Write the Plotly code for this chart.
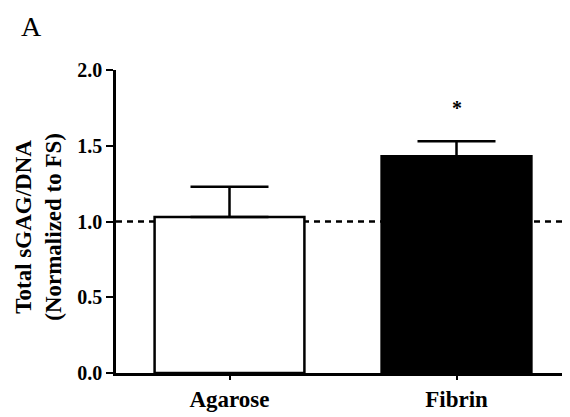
import plotly.graph_objects as go

categories = ["Agarose", "Fibrin"]
values = [1.03, 1.43]
errors_up = [0.20, 0.10]
fill_colors = ["white", "black"]
reference_level = 1.0
significance = ["", "*"]
y_ticks = [0.0, 0.5, 1.0, 1.5, 2.0]
y_tick_labels = ["0.0", "0.5", "1.0", "1.5", "2.0"]

FONT = "Liberation Serif"

fig = go.Figure()
fig.add_trace(go.Bar(
    x=categories, y=values, width=0.66,
    marker=dict(color=fill_colors, line=dict(color="black", width=2.5)),
    error_y=dict(type="data", symmetric=False, array=errors_up,
                 arrayminus=[0] * len(values), color="black",
                 thickness=2.5, width=39),
    showlegend=False,
))

fig.add_shape(type="line", xref="paper", yref="y", x0=0, x1=1,
              y0=reference_level, y1=reference_level,
              line=dict(color="black", width=2.5, dash="6px,5px"), layer="below")

for c, v, e, s in zip(categories, values, errors_up, significance):
    if s:
        fig.add_annotation(x=c, y=v + e + 0.22, text="<b>*</b>", showarrow=False,
                           font=dict(family=FONT, size=20, color="black"))

fig.add_annotation(xref="paper", yref="paper", x=-0.187, y=1.142, text="A",
                   xanchor="center", yanchor="middle",
                   showarrow=False, font=dict(family=FONT, size=28, color="black"))

fig.add_annotation(xref="paper", yref="paper", x=-0.17, y=0.482,
                   text="<b>Total sGAG/DNA<br>(Normalized to FS)</b>",
                   xanchor="center", yanchor="middle",
                   textangle=-90, showarrow=False,
                   font=dict(family=FONT, size=23, color="black"))

fig.update_layout(
    width=562, height=409,
    margin=dict(l=108, r=0, t=62, b=44),
    plot_bgcolor="white", paper_bgcolor="white",
    font=dict(family=FONT, color="black"),
    xaxis=dict(range=[-0.5, 1.5], showline=True, linecolor="black", linewidth=2.5,
               ticks="outside", ticklen=4, tickwidth=2, tickcolor="black",
               tickfont=dict(family=FONT, size=23, color="black"),
               tickprefix="<b>", ticksuffix="</b>", showgrid=False, zeroline=False),
    yaxis=dict(range=[0, 2.0], tickvals=y_ticks, ticktext=["<b>%s</b>" % t for t in y_tick_labels],
               showline=True, linecolor="black", linewidth=2.5,
               ticks="outside", ticklen=7, tickwidth=2, tickcolor="black",
               tickfont=dict(family=FONT, size=20, color="black"),
               showgrid=False, zeroline=False),
)

fig.write_html("out.html")
